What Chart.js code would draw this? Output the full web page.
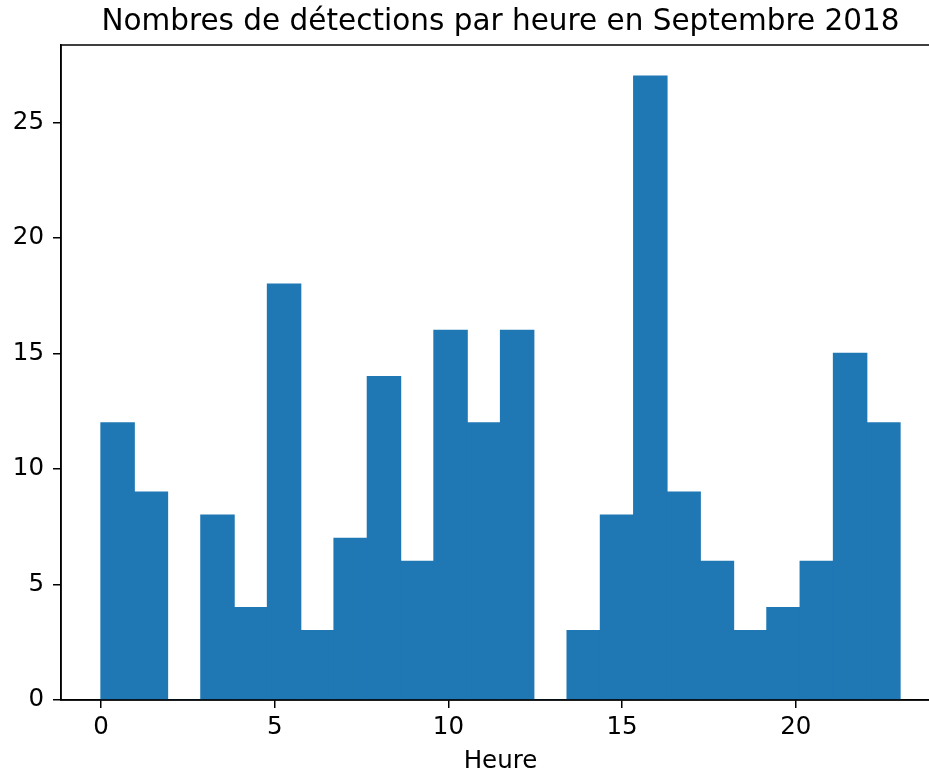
<!DOCTYPE html>
<html>
<head>
<meta charset="utf-8">
<script src="https://cdn.jsdelivr.net/npm/chart.js@4/dist/chart.umd.min.js"></script>
<style>
    html, body { margin: 0; padding: 0; background: #fff; overflow: hidden; }
    #wrap { width: 960px; height: 778px; }
</style>
</head>
<body>
<div id="wrap"><canvas id="chart" width="960" height="778"></canvas></div>
<script>
    // Histogramme : 24 classes entre 0 et 23 h
    const histRange = [0, 23];
    const counts = [12, 9, 0, 8, 4, 18, 3, 7, 14, 6, 16, 12, 16, 0, 3, 8, 27, 9, 6, 3, 4, 6, 15, 12];
    const xTicks = [0, 5, 10, 15, 20];
    const yTicks = [0, 5, 10, 15, 20, 25];

    const binWidth = (histRange[1] - histRange[0]) / counts.length;
    const points = counts.map((c, i) => ({ x: histRange[0] + (i + 0.5) * binWidth, y: c }));

    const span = histRange[1] - histRange[0];
    const yMax = Math.max(...counts) * 1.05;

    const FONT = "'DejaVu Sans', sans-serif";

    // cadre complet (haut et droite) comme matplotlib
    const frame = {
        id: 'frame',
        afterDraw(chart) {
            const a = chart.chartArea, ctx = chart.ctx;
            ctx.save();
            ctx.strokeStyle = '#000';
            ctx.lineWidth = 1.5;
            ctx.strokeRect(a.left, a.top, a.right - a.left, a.bottom - a.top);
            ctx.restore();
        }
    };

    new Chart(document.getElementById('chart'), {
        type: 'bar',
        data: {
            datasets: [{
                data: points,
                backgroundColor: '#1f77b4',
                borderWidth: 0,
                inflateAmount: 0.6,
                barPercentage: 1,
                categoryPercentage: 1
            }]
        },
        options: {
            responsive: false,
            animation: false,
            layout: { padding: { top: 0, right: 20, left: 0, bottom: 0 } },
            plugins: {
                legend: { display: false },
                tooltip: { enabled: false },
                title: {
                    display: true,
                    fullSize: false,
                    text: 'Nombres de détections par heure en Septembre 2018',
                    color: '#000',
                    font: { family: FONT, size: 29.5, weight: 'normal', lineHeight: 1.2 },
                    padding: { top: 5, bottom: 4.6 }
                }
            },
            scales: {
                x: {
                    type: 'linear',
                    offset: false,
                    min: histRange[0] - span * 0.05,
                    max: histRange[1] + span * 0.05,
                    afterBuildTicks: s => { s.ticks = xTicks.map(v => ({ value: v })); },
                    afterFit: s => { s.height = 78; },
                    grid: { offset: false, drawOnChartArea: false, drawTicks: true, tickLength: 8, color: '#000', lineWidth: 1.5 },
                    border: { display: true, color: '#000', width: 1.5 },
                    ticks: { color: '#000', padding: 5, maxRotation: 0, font: { family: FONT, size: 24.5 } },
                    title: {
                        display: true, text: 'Heure', color: '#000',
                        font: { family: FONT, size: 24.5 },
                        padding: { top: 0, bottom: 2 }
                    }
                },
                y: {
                    min: 0,
                    max: yMax,
                    afterBuildTicks: s => { s.ticks = yTicks.map(v => ({ value: v })); },
                    afterFit: s => { s.width = 61; },
                    grid: { drawOnChartArea: false, drawTicks: true, tickLength: 8, color: '#000', lineWidth: 1.5 },
                    border: { display: true, color: '#000', width: 1.5 },
                    ticks: { color: '#000', padding: 9, font: { family: FONT, size: 24.5 } }
                }
            }
        },
        plugins: [frame]
    });
</script>
</body>
</html>
